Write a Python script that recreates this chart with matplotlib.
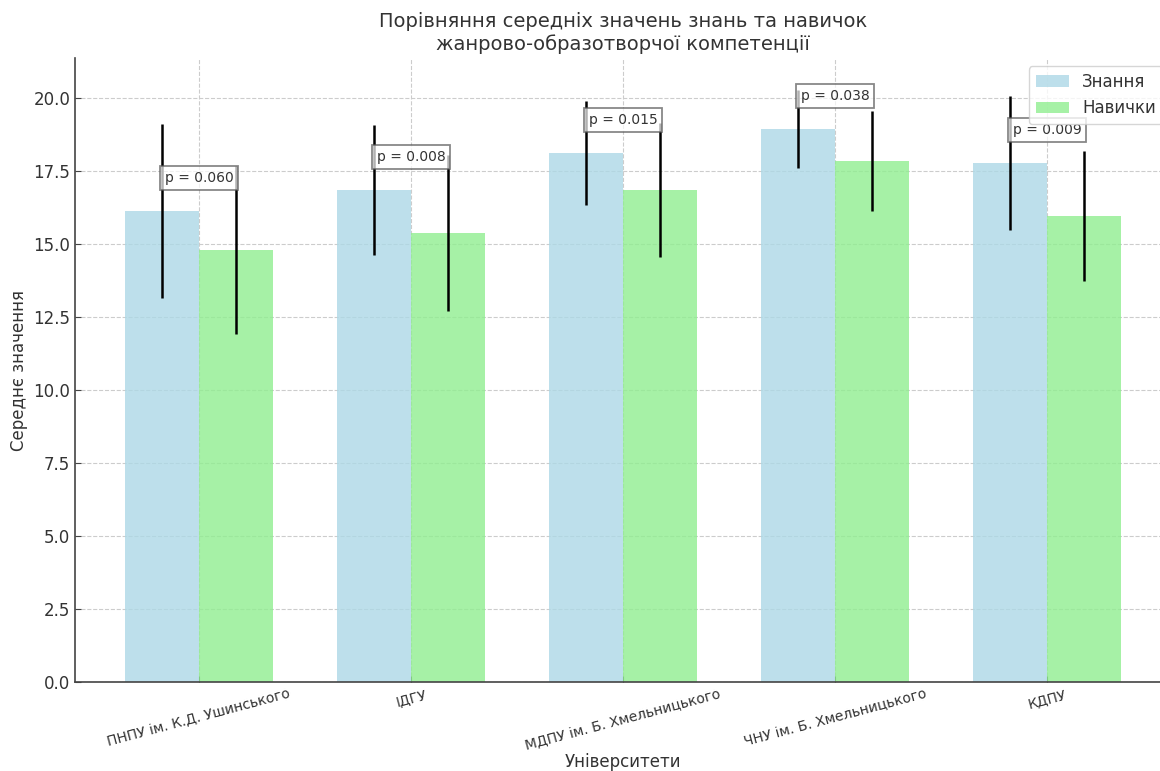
import numpy as np
import matplotlib.pyplot as plt

universities = ['ПНПУ ім. К.Д. Ушинського', 'ІДГУ', 'МДПУ ім. Б. Хмельницького',
                'ЧНУ ім. Б. Хмельницького', 'КДПУ']
knowledge = [16.13, 16.85, 18.12, 18.94, 17.77]
knowledge_err = [2.97, 2.23, 1.77, 1.34, 2.30]
skills = [14.79, 15.38, 16.85, 17.84, 15.96]
skills_err = [2.87, 2.67, 2.30, 1.71, 2.24]
p_values = [0.060, 0.008, 0.015, 0.038, 0.009]

plt.rcParams['text.color'] = '#333333'
plt.rcParams['axes.labelcolor'] = '#333333'
plt.rcParams['xtick.color'] = '#333333'
plt.rcParams['ytick.color'] = '#333333'

fig = plt.figure(figsize=(11.6, 7.71), dpi=100)
ax = fig.add_axes([0.0647, 0.1154, 0.9448, 0.8093])

x = np.arange(len(universities))
w = 0.35

ax.bar(x - w / 2, knowledge, w, yerr=knowledge_err, color='lightblue', alpha=0.8,
       label='Знання', error_kw=dict(ecolor='black', elinewidth=1.8, capsize=0))
ax.bar(x + w / 2, skills, w, yerr=skills_err, color='lightgreen', alpha=0.8,
       label='Навички', error_kw=dict(ecolor='black', elinewidth=1.8, capsize=0))

for i, p in enumerate(p_values):
    ax.text(x[i], max(knowledge[i], skills[i]) + 1.13, f'p = {p:.3f}', ha='center', va='center',
            fontsize=10, bbox=dict(facecolor='white', edgecolor='#555555', alpha=0.7, pad=3.5,
                                   linewidth=1.3))

ax.set_xlim(-0.585, len(universities) - 1 + 0.585)
ax.set_ylim(0, 21.37)
ax.set_xticks(x)
ax.set_xticklabels(universities, rotation=15, fontsize=10)
ax.tick_params(direction='in', length=4, color='#444444')
ax.tick_params(axis='y', labelsize=12)
ax.set_xlabel('Університети', fontsize=12, labelpad=0)
ax.set_ylabel('Середнє значення', fontsize=12, labelpad=4)
ax.set_title('Порівняння середніх значень знань та навичок\nжанрово-образотворчої компетенції',
             fontsize=14, pad=6)

ax.grid(True, linestyle='--', color='#cccccc', linewidth=0.8)
ax.set_axisbelow(True)
for s in ['top', 'right']:
    ax.spines[s].set_visible(False)
for s in ['left', 'bottom']:
    ax.spines[s].set_color('#444444')
    ax.spines[s].set_linewidth(1.2)

ax.legend(fontsize=12, loc='upper right')

fig.savefig('out.png', dpi=100)
